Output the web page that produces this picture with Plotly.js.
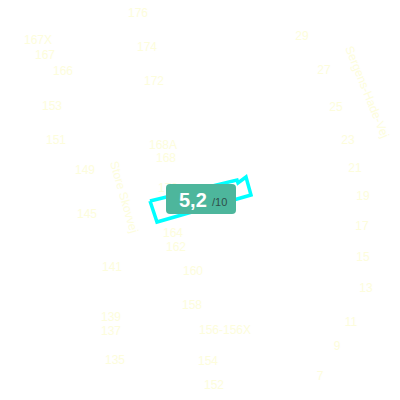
<!DOCTYPE html>
<html>
<head>
<meta charset="utf-8">
<script src="https://cdn.plot.ly/plotly-3.0.1.min.js"></script>
<style>html,body{margin:0;padding:0;background:#fff}#chart{width:400px;height:400px}</style>
</head>
<body>
<div id="chart"></div>
<script>
// House-number labels (map pixel coordinates)
const houseLabels = ["176","167X","167","166","174","172","153","151","168A","168","149","170",
  "145","164","162","141","160","158","139","137","135","156-156X","154","152",
  "29","27","25","23","21","19","17","15","13","11","9","7"];
const houseX = [138,38,45,63,147,154,52,56,163,166,85,168,
  87,173,176,112,193,192,111,111,115,225,208,214,
  302,324,336,348,355,363,362,363,366,351,337,320];
const houseY = [14,41,56,72,48,82,107,141,146,159,171,189,
  215,234,248,268,272,306,318,332,361,331,362,386,
  37,71,108,141,169,197,227,258,289,323,347,377];

// Street names
const streetNames = ["Store Skovvej","Sergens-Hade-Vej"];
const streetX = [124, 367];
const streetY = [197, 92];
const streetAngle = [74, 68];

// Highlighted building outline
const buildingX = [150,237,238,246,251,157,150];
const buildingY = [201,180,183,177,195,222,201];

// Score badge
const scoreValue = "5,2";
const scoreMax = "/10";

const labelColor = "#fdfddc";

const traces = [
  {
    type: "scatter", mode: "text",
    x: houseX, y: houseY, text: houseLabels,
    textposition: "middle center",
    textfont: {family: "Liberation Sans, Arial, sans-serif", size: 12, color: labelColor},
    hoverinfo: "skip", showlegend: false
  },
  {
    type: "scatter", mode: "lines",
    x: buildingX, y: buildingY,
    line: {color: "#00ffff", width: 3.5},
    hoverinfo: "skip", showlegend: false
  }
];

const annotations = streetNames.map((t, i) => ({
  x: streetX[i], y: streetY[i], xref: "x", yref: "y",
  text: t, showarrow: false, textangle: streetAngle[i],
  font: {family: "Liberation Sans, Arial, sans-serif", size: 12, color: labelColor}
}));
annotations.push({
  x: 193, y: 200, xref: "x", yref: "y", text: "<b>" + scoreValue + "</b>",
  showarrow: false, xanchor: "center", yanchor: "middle",
  font: {family: "Liberation Sans, Arial, sans-serif", size: 20, color: "#ffffff"}
});
annotations.push({
  x: 219, y: 202, xref: "x", yref: "y", text: scoreMax,
  showarrow: false, xanchor: "center", yanchor: "middle",
  font: {family: "Liberation Sans, Arial, sans-serif", size: 11, color: "#2f4f4a"}
});

// rounded badge path
const bx0 = 166, bx1 = 236, by0 = 184, by1 = 214, r = 4;
const badgePath = `M ${bx0+r} ${by0} L ${bx1-r} ${by0} Q ${bx1} ${by0} ${bx1} ${by0+r} L ${bx1} ${by1-r} Q ${bx1} ${by1} ${bx1-r} ${by1} L ${bx0+r} ${by1} Q ${bx0} ${by1} ${bx0} ${by1-r} L ${bx0} ${by0+r} Q ${bx0} ${by0} ${bx0+r} ${by0} Z`;

const layout = {
  width: 400, height: 400,
  margin: {l: 0, r: 0, t: 0, b: 0},
  paper_bgcolor: "#ffffff", plot_bgcolor: "#ffffff",
  xaxis: {range: [0, 400], visible: false, fixedrange: true},
  yaxis: {range: [400, 0], visible: false, fixedrange: true},
  showlegend: false,
  shapes: [{type: "path", path: badgePath, xref: "x", yref: "y",
    fillcolor: "#4db69c", line: {width: 0}, layer: "above"}],
  annotations: annotations
};

Plotly.newPlot("chart", traces, layout, {displayModeBar: false, staticPlot: true});
</script>
</body>
</html>
